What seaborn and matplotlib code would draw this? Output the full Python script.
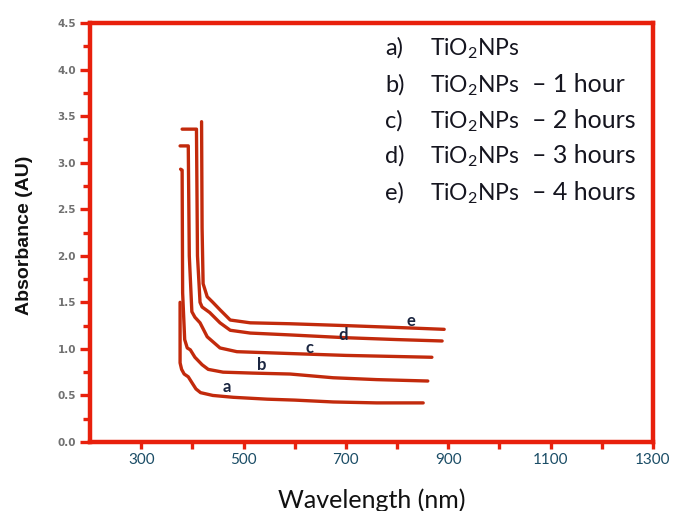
import matplotlib
matplotlib.use("Agg")
import matplotlib.pyplot as plt
import seaborn as sns
import pandas as pd
from matplotlib.ticker import MultipleLocator, FixedLocator

# UV-Vis absorbance spectra of TiO2 nanoparticles (wavelength in nm, absorbance in AU)
wl_a = [376, 376, 379, 384, 392, 400, 407, 416, 440, 480, 546, 600, 675, 760, 851]
abs_a = [1.50, 0.85, 0.78, 0.73, 0.70, 0.63, 0.57, 0.53, 0.50, 0.48, 0.46, 0.45, 0.43, 0.42, 0.42]

wl_b = [377, 380, 381, 385, 390, 396, 405, 419, 431, 460, 518, 591, 675, 760, 860]
abs_b = [2.93, 2.92, 1.60, 1.10, 1.01, 0.99, 0.91, 0.83, 0.78, 0.75, 0.74, 0.73, 0.69, 0.67, 0.655]

wl_c = [376, 392, 394, 399, 405, 415, 429, 454, 487, 591, 700, 868]
abs_c = [3.18, 3.18, 2.00, 1.40, 1.34, 1.28, 1.13, 1.01, 0.97, 0.95, 0.93, 0.91]

wl_d = [380, 408, 410, 415, 419, 434, 454, 474, 513, 591, 700, 800, 888]
abs_d = [3.36, 3.36, 2.00, 1.50, 1.45, 1.39, 1.28, 1.20, 1.17, 1.15, 1.12, 1.10, 1.085]

wl_e = [418, 419, 421, 429, 440, 454, 474, 513, 591, 700, 800, 892]
abs_e = [3.44, 2.30, 1.70, 1.56, 1.50, 1.42, 1.31, 1.28, 1.27, 1.25, 1.23, 1.21]

curve_ids = ["a", "b", "c", "d", "e"]
curve_wl = [wl_a, wl_b, wl_c, wl_d, wl_e]
curve_abs = [abs_a, abs_b, abs_c, abs_d, abs_e]

# curve tag positions (wavelength, absorbance)
tag_wl = [468, 536, 628, 694, 827]
tag_abs = [0.59, 0.83, 1.01, 1.15, 1.30]

legend_letters = ["a)", "b)", "c)", "d)", "e)"]
legend_suffix = ["", "\u2013 1 hour", "\u2013 2 hours", "\u2013 3 hours", "\u2013 4 hours"]

x_major = [300, 500, 700, 900, 1100, 1300]
x_minor = [400, 600, 800, 1000, 1200]

sns.set_theme(style="white")
plt.rcParams["font.family"] = ["Lato", "DejaVu Sans"]
plt.rcParams["mathtext.fontset"] = "custom"
plt.rcParams["mathtext.rm"] = "Lato"
plt.rcParams["mathtext.it"] = "Lato:italic"
plt.rcParams["mathtext.bf"] = "Lato:bold"

frames = []
for cid, w, a in zip(curve_ids, curve_wl, curve_abs):
    frames.append(pd.DataFrame({"curve": cid, "order": range(len(w)),
                                "wavelength": w, "absorbance": a}))
df = pd.concat(frames, ignore_index=True)

W, H = 681, 511
fig = plt.figure(figsize=(W / 100, H / 100), dpi=100)
ax = fig.add_axes([90 / W, 1 - 442 / H, (653 - 90) / W, (442 - 23) / H])

line_color = "#c22a0c"
sns.lineplot(data=df, x="wavelength", y="absorbance", hue="curve", units="curve",
             estimator=None, sort=False, palette=[line_color] * 5,
             linewidth=2.4, legend=False, ax=ax)

ax.set_xlim(200, 1300)
ax.set_ylim(0, 4.5)

spine_color = "#e8200c"
for s in ax.spines.values():
    s.set_visible(True)
    s.set_color(spine_color)
    s.set_linewidth(3.2)

ax.xaxis.set_major_locator(FixedLocator(x_major))
ax.xaxis.set_minor_locator(FixedLocator(x_minor))
ax.yaxis.set_major_locator(MultipleLocator(0.5))
ax.yaxis.set_minor_locator(MultipleLocator(0.25))
ax.set_xticklabels([str(v) for v in x_major])
ax.set_yticklabels([f"{v:.1f}" for v in ax.get_yticks()])

ax.tick_params(axis="x", which="both", direction="out", length=5, width=2.4,
               color=spine_color, bottom=True, labelsize=11, labelcolor="#1b4d66", pad=3)
ax.tick_params(axis="y", which="major", direction="out", length=7, width=2.4,
               color=spine_color, left=True, labelsize=7.5, labelcolor="#707070", pad=3)
ax.tick_params(axis="y", which="minor", direction="out", length=5, width=2.4,
               color=spine_color, left=True)
for lbl in ax.get_yticklabels():
    lbl.set_fontweight("bold")
    lbl.set_family(["DejaVu Sans"])

ax.set_xlabel("")
ax.set_ylabel("")
ax.grid(False)

# curve tags
for cid, tx, ty in zip(curve_ids, tag_wl, tag_abs):
    ax.text(tx, ty, cid, ha="center", va="center", fontsize=12,
            fontweight="bold", color="#1a2540")

# axis titles
fig.text(372 / W, 1 - 500 / H, "Wavelength (nm)", ha="center", va="center",
         fontsize=18, color="#111111")
fig.text(25 / W, 1 - 235 / H, "Absorbance (AU)", ha="center", va="center",
         rotation=90, fontsize=14, fontweight="bold",
         family=["Liberation Sans", "DejaVu Sans"], color="#111111")

# sample key
baselines = [55, 92, 128, 163, 200]
for letter, suffix, b in zip(legend_letters, legend_suffix, baselines):
    yb = 1 - b / H
    fig.text(385 / W, yb, letter, ha="left", va="baseline", fontsize=17, color="#15151f")
    fig.text(430 / W, yb, r"TiO$_{\mathrm{2}}$NPs", ha="left", va="baseline",
             fontsize=16.5, color="#15151f")
    if suffix:
        fig.text(532 / W, yb, suffix, ha="left", va="baseline", fontsize=18,
                 color="#15151f")

fig.savefig("out.png", dpi=100, facecolor="white")
